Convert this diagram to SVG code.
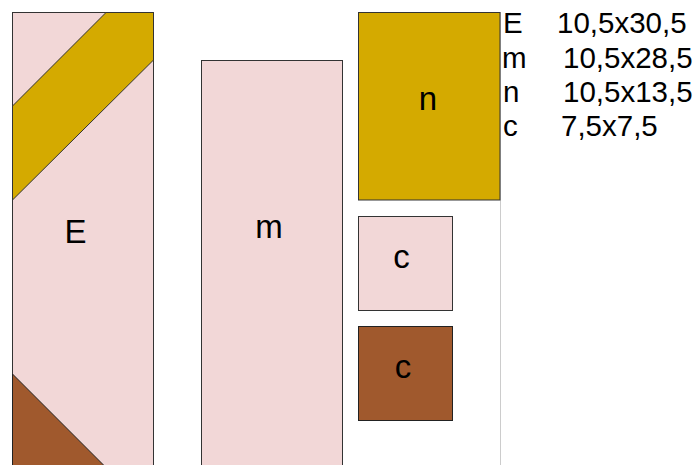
<svg xmlns="http://www.w3.org/2000/svg" width="699" height="465" viewBox="0 0 699 465">
<style>
.pink{fill:#f2d7d7;stroke:#333;stroke-width:1}
.gold{fill:#d4aa00;stroke:#333;stroke-width:1}
.brown{fill:#a0592d;stroke:#222;stroke-width:1}
.lbl{font-family:"Liberation Sans",Arial,sans-serif;font-size:33px;fill:#000;text-anchor:middle}
.leg{font-family:"Liberation Sans",Arial,sans-serif;font-size:29.5px;fill:#000}
</style>
<rect width="699" height="465" fill="#fff"/>
<line x1="500.5" y1="12" x2="500.5" y2="465" stroke="#ccc" stroke-width="1"/>
<g id="E">
<rect class="pink" x="12.5" y="12.5" width="141" height="470"/>
<polygon class="gold" points="12.5,106 106,12.5 153.5,12.5 153.5,60 12.5,200"/>
<polygon class="brown" points="12.5,374 110,471.5 12.5,471.5"/>
<text class="lbl" x="75.5" y="243">E</text>
</g>
<g id="m">
<rect class="pink" x="201.5" y="60.5" width="141" height="420"/>
<text class="lbl" x="269" y="238">m</text>
</g>
<g id="n">
<rect class="gold" x="358.5" y="12.5" width="141.5" height="187.5"/>
<text class="lbl" x="428" y="110">n</text>
</g>
<g id="c1">
<rect class="pink" x="358.5" y="216.5" width="94" height="94"/>
<text class="lbl" x="401.5" y="268">c</text>
</g>
<g id="c2">
<rect class="brown" x="358.5" y="326.5" width="94" height="94"/>
<text class="lbl" x="403" y="378">c</text>
</g>
<g id="legend" class="leg">
<text x="503" y="33">E</text><text x="557" y="33">10,5x30,5</text>
<text x="502" y="68">m</text><text x="563" y="68">10,5x28,5</text>
<text x="503" y="102">n</text><text x="563" y="102">10,5x13,5</text>
<text x="503" y="136">c</text><text x="561" y="136">7,5x7,5</text>
</g>
</svg>
